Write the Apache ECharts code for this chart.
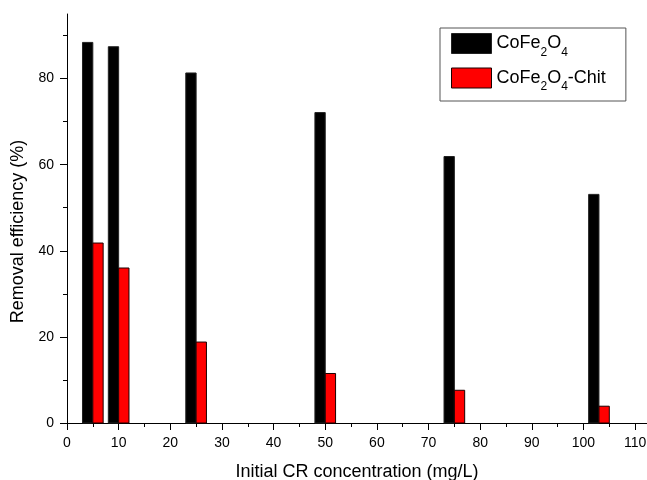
<!DOCTYPE html>
<html>
<head>
<meta charset="utf-8">
<script src="https://cdn.jsdelivr.net/npm/echarts@6/dist/echarts.min.js"></script>
<style>html,body{margin:0;padding:0;background:#fff;}#chart{width:647px;height:480px;}</style>
</head>
<body>
<div id="chart"></div>
<script>
const concentrations = [5, 10, 25, 50, 75, 103];
const cofe2o4 = [88.4, 87.4, 81.3, 72.1, 61.9, 53.1];
const cofe2o4Chit = [41.8, 36.0, 18.8, 11.5, 7.6, 3.9];
const seriesNames = ['CoFe2O4', 'CoFe2O4-Chit'];
const xMajorTicks = [0, 10, 20, 30, 40, 50, 60, 70, 80, 90, 100, 110];
const xMinorTicks = [5, 15, 25, 35, 45, 55, 65, 75, 85, 95, 105];
const yMajorTicks = [0, 20, 40, 60, 80];
const yMinorTicks = [10, 30, 50, 70, 90];
const xTitle = 'Initial CR concentration (mg/L)';
const yTitle = 'Removal efficiency (%)';

const FONT = '"Liberation Sans", Arial, sans-serif';
const xMin = 0, xMax = 112.3, yMin = 0, yMax = 95;
const BAR_UNITS = 2; // bar width in x-axis units

const chart = echarts.init(document.getElementById('chart'), null, {renderer: 'canvas'});

function toPairs(xs, ys) { return xs.map((x, i) => [x, ys[i]]); }

function makeRenderer(side, fill, stroke) {
  return function (params, api) {
    const x = api.value(0), y = api.value(1);
    const base = api.coord([x, 0]);
    const top = api.coord([x, y]);
    const w = api.size([BAR_UNITS, 0])[0];
    const left = side < 0 ? base[0] - w : base[0];
    return {
      type: 'rect',
      shape: {x: left, y: top[1], width: w, height: base[1] - top[1]},
      style: {fill: fill, stroke: stroke, lineWidth: 1}
    };
  };
}

const option = {
  animation: false,
  backgroundColor: '#fff',
  grid: {left: 67, right: 0, top: 14, bottom: 57, containLabel: false, outerBoundsMode: 'none'},
  legend: {
    orient: 'vertical',
    left: 440, top: 28,
    padding: [5, 20, 8, 11],
    itemWidth: 40, itemHeight: 20, itemGap: 9,
    borderColor: '#555', borderWidth: 1,
    icon: 'rect',
    data: [
      {name: seriesNames[0], itemStyle: {color: '#000', borderColor: '#222', borderWidth: 1}},
      {name: seriesNames[1], itemStyle: {color: '#ff0000', borderColor: '#1a0000', borderWidth: 1}}
    ],
    formatter: function (name) {
      return '{a|' + name.replace(/(\d)/g, '}{s|$1}{a|') + '}';
    },
    textStyle: {
      rich: {
        a: {fontSize: 18, fontFamily: FONT, color: '#000', lineHeight: 20, verticalAlign: 'middle'},
        s: {fontSize: 12, fontFamily: FONT, color: '#000', lineHeight: 2, verticalAlign: 'top', padding: [13, 0, 0, 0]}
      }
    }
  },
  xAxis: [{
    type: 'value', min: xMin, max: xMax, position: 'bottom',
    name: xTitle, nameLocation: 'middle', nameGap: 40,
    nameTextStyle: {fontSize: 18, fontFamily: FONT, color: '#000'},
    axisLine: {show: true, lineStyle: {color: '#000', width: 1}},
    axisTick: {show: true, inside: false, length: 7, customValues: xMajorTicks, lineStyle: {color: '#000', width: 1}},
    axisLabel: {show: true, margin: 13, fontSize: 14, fontFamily: FONT, color: '#000', customValues: xMajorTicks},
    splitLine: {show: false}
  }, {
    type: 'value', min: xMin, max: xMax, position: 'bottom',
    axisLine: {show: false},
    axisTick: {show: true, inside: false, length: 4, customValues: xMinorTicks, lineStyle: {color: '#000', width: 1}},
    axisLabel: {show: false},
    splitLine: {show: false}
  }],
  yAxis: [{
    type: 'value', min: yMin, max: yMax, position: 'left',
    name: yTitle, nameLocation: 'middle', nameGap: 36,
    nameTextStyle: {fontSize: 18, fontFamily: FONT, color: '#000', padding: [0, 26, 0, 0]},
    axisLine: {show: true, lineStyle: {color: '#000', width: 1}},
    axisTick: {show: true, inside: false, length: 7, customValues: yMajorTicks, lineStyle: {color: '#000', width: 1}},
    axisLabel: {show: true, margin: 13, fontSize: 14, fontFamily: FONT, color: '#000', customValues: yMajorTicks},
    splitLine: {show: false}
  }, {
    type: 'value', min: yMin, max: yMax, position: 'left',
    axisLine: {show: false},
    axisTick: {show: true, inside: false, length: 4, customValues: yMinorTicks, lineStyle: {color: '#000', width: 1}},
    axisLabel: {show: false},
    splitLine: {show: false}
  }],
  series: [{
    name: seriesNames[0], type: 'custom', xAxisIndex: 0, yAxisIndex: 0,
    data: toPairs(concentrations, cofe2o4),
    encode: {x: 0, y: 1},
    itemStyle: {color: '#000', borderColor: '#222', borderWidth: 1},
    renderItem: makeRenderer(-1, '#000', '#222')
  }, {
    name: seriesNames[1], type: 'custom', xAxisIndex: 0, yAxisIndex: 0,
    data: toPairs(concentrations, cofe2o4Chit),
    encode: {x: 0, y: 1},
    itemStyle: {color: '#ff0000', borderColor: '#1a0000', borderWidth: 1},
    renderItem: makeRenderer(1, '#ff0000', '#1a0000')
  }]
};
chart.setOption(option);
</script>
</body>
</html>
